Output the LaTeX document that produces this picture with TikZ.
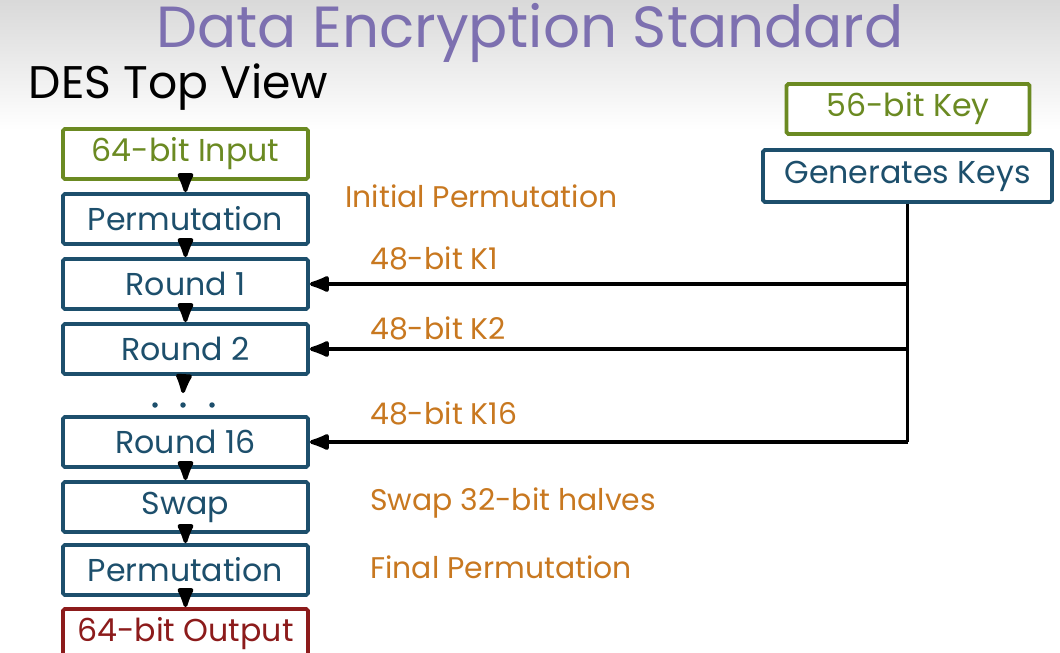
\documentclass[tikz,border=0pt]{standalone}
\usepackage{fontspec}
\setmainfont{Poppins}
\usetikzlibrary{arrows.meta, positioning}

\definecolor{titlepurple}{HTML}{7D70B0}
\definecolor{keygreen}{HTML}{6B8A22}
\definecolor{stepblue}{HTML}{1D4F6C}
\definecolor{outred}{HTML}{8C1B1B}
\definecolor{noteorange}{HTML}{C87820}

\begin{document}
\begin{tikzpicture}[
        node distance = 1.3cm,
        on grid,
        >= {Latex[round, scale = 1.1]},
        every node/.style = {font = \fontsize{18}{21}\selectfont},
        box/.style = {draw, line width = 2.2pt, rounded corners = 1pt,
                      minimum width = 4.9cm, minimum height = 1cm, inner sep = 0pt, fill = white},
        greenbox/.style = {box, draw = keygreen, text = keygreen},
        bluebox/.style = {box, draw = stepblue, text = stepblue},
        redbox/.style = {box, draw = outred, text = outred},
        note/.style = {anchor = west, inner sep = 0pt, text = noteorange, font = \fontsize{17}{20}\selectfont},
        link/.style = {line width = 2.2pt, black},
        dot/.style = {circle, fill = stepblue, inner sep = 0pt, minimum size = 0.11cm}
    ]

      \useasboundingbox (0,0) rectangle (21.2,-13.06);
      \shade[top color = gray!30, bottom color = white] (0,0) rectangle (21.2,-2.6);

      \node[text = titlepurple, font = \fontsize{33}{38}\selectfont] (title) at (10.6,-0.66) {Data Encryption Standard};
      \node[anchor = west, font = \fontsize{26}{30}\selectfont] (view) at (0.45,-1.74) {DES Top View};

      \node[greenbox] (input) at (3.71,-3.08) {64-bit Input};
      \node[bluebox] (perm1) [below = of input] {Permutation};
      \node[bluebox] (r1) [below = of perm1] {Round 1};
      \node[bluebox] (r2) [below = of r1] {Round 2};
      \node[bluebox] (r16) [below = 1.86cm of r2] {Round 16};
      \node[bluebox] (swap) [below = of r16] {Swap};
      \node[bluebox] (perm2) [below = 1.26cm of swap] {Permutation};
      \node[redbox] (output) [below = 1.28cm of perm2] {64-bit Output};

      \node[dot] (d2) at (3.66,-8.1) {};
      \node[dot] (d1) [left = 0.56cm of d2] {};
      \node[dot] (d3) [right = 0.58cm of d2] {};
      \coordinate (gap) at (3.66,-7.86);

      \node[greenbox, minimum width = 4.86cm] (key) at (18.16,-2.18) {56-bit Key};
      \node[bluebox, minimum width = 5.78cm, minimum height = 1.04cm] (gen) at (18.15,-3.52) {Generates Keys};

      \node[note] (ip) at (6.9,-3.92) {Initial Permutation};
      \node[note] (k1) at (7.4,-5.16) {48-bit K1};
      \node[note] (k2) at (7.4,-6.56) {48-bit K2};
      \node[note] (k16) at (7.4,-8.26) {48-bit K16};
      \node[note] (sw) at (7.4,-10.06) {Swap 32-bit halves};
      \node[note] (fp) at (7.4,-11.34) {Final Permutation};

      \path[->, link]
            (input) edge (perm1)
            (perm1) edge (r1)
            (r1) edge (r2)
            (r2) edge (gap)
            (r16) edge (swap)
            (swap) edge (perm2)
            (perm2) edge (output);

      \draw[link] (gen.south) -- (gen.south |- r16) coordinate (trunk);
      \draw[link, ->] (gen.south |- r1) -- (r1.east);
      \draw[link, ->] (gen.south |- r2) -- (r2.east);
      \draw[link, ->] (trunk) -- (r16.east);

\end{tikzpicture}
\end{document}
